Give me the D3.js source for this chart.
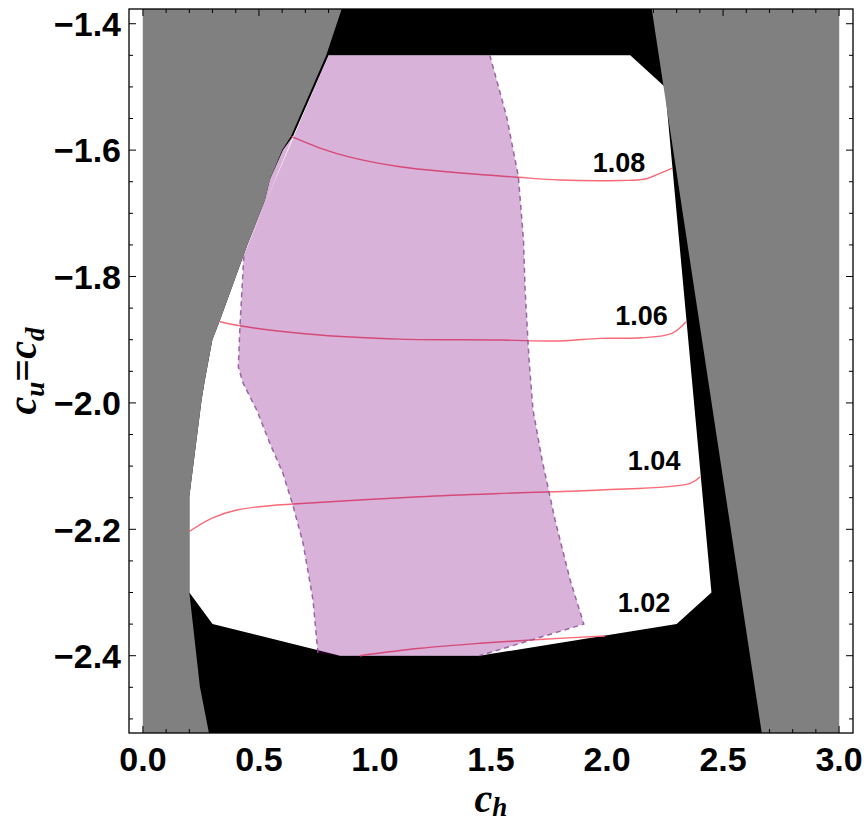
<!DOCTYPE html>
<html>
<head>
<meta charset="utf-8">
<script src="https://cdn.jsdelivr.net/npm/d3@7"></script>
<style>
  html, body { margin: 0; padding: 0; background: #fff; }
  svg { display: block; }
</style>
</head>
<body>
<svg id="chart" width="864" height="825"></svg>
<script>
// ---------------- data ----------------
const xDomain = [-0.06, 3.06];
const yDomain = [-2.5223, -1.3767];
const xTicks = [0, 0.5, 1, 1.5, 2, 2.5, 3];
const xTickLabels = ["0.0", "0.5", "1.0", "1.5", "2.0", "2.5", "3.0"];
const yTicks = [-1.4, -1.6, -1.8, -2.0, -2.2, -2.4];
const yTickLabels = ["\u22121.4", "\u22121.6", "\u22121.8", "\u22122.0", "\u22122.2", "\u22122.4"];
const xMinorStep = 0.1;
const yMinorStep = 0.05;

// excluded band (black) spans the whole c_h range
const blackBand = [[0, -2.5223], [3, -2.5223], [3, -1.3767], [0, -1.3767]];

// gray regions
const grayLeft = [
  [0, -1.3767], [0.8565, -1.3767], [0.79, -1.45], [0.638, -1.578], [0.6, -1.6],
  [0.547, -1.647], [0.526, -1.679], [0.447, -1.753], [0.332, -1.869],
  [0.299, -1.9005], [0.267, -1.964], [0.253, -1.995], [0.2, -2.148],
  [0.2, -2.3], [0.2457, -2.4495], [0.2845, -2.5223], [0, -2.5223]
];
const grayRight = [
  [2.1927, -1.3767], [3, -1.3767], [3, -2.5223], [2.6668, -2.5223]
];

// allowed (white) region
const allowedRegion = [
  [0.8, -1.45], [2.1, -1.45], [2.25, -1.5], [2.45, -2.3], [2.3, -2.35],
  [1.45, -2.4], [0.85, -2.4], [0.3, -2.35], [0.2, -2.3], [0.2, -2.148],
  [0.253, -1.995], [0.267, -1.964], [0.299, -1.9005], [0.332, -1.869],
  [0.447, -1.753], [0.526, -1.679], [0.547, -1.647], [0.604, -1.6], [0.647, -1.578]
];

// pink region: dashed edges
const pinkRight = [
  [1.495, -1.45], [1.5675, -1.547], [1.618, -1.642], [1.64, -1.742],
  [1.647, -1.821], [1.664, -1.932], [1.681, -2.011], [1.72, -2.09],
  [1.776, -2.185], [1.841, -2.28], [1.9, -2.35], [1.45, -2.4]
];
const pinkLeft = [
  [0.754, -2.3958], [0.733, -2.312], [0.69, -2.222], [0.647, -2.163],
  [0.603, -2.111], [0.547, -2.064], [0.49, -2.011], [0.432, -1.969],
  [0.411, -1.943], [0.418, -1.879], [0.435, -1.766]
];
const pinkTopLeft = [[0.8, -1.45]];
const pinkBottom = [[0.85, -2.4]];
const pinkUpperLeft = [[0.447, -1.753], [0.526, -1.679], [0.547, -1.647], [0.604, -1.6], [0.647, -1.578]];

// contours
const contourLevels = ["1.08", "1.06", "1.04", "1.02"];
const contour108 = [
  [0.641, -1.5788], [0.763, -1.5967], [0.892, -1.611], [1.108, -1.6263],
  [1.323, -1.6347], [1.616, -1.643], [1.797, -1.6473], [2.056, -1.648],
  [2.164, -1.6457], [2.228, -1.6367], [2.279, -1.6288]
];
const contour106 = [
  [0.332, -1.8715], [0.418, -1.878], [0.763, -1.8926], [1.108, -1.899],
  [1.539, -1.9005], [1.797, -1.902], [1.97, -1.8978], [2.15, -1.897],
  [2.279, -1.89], [2.341, -1.8715]
];
const contour104 = [
  [0.198, -2.2038], [0.296, -2.1826], [0.404, -2.1695], [0.547, -2.1627],
  [0.648, -2.16], [1.194, -2.1484], [1.6, -2.1425], [1.97, -2.1378],
  [2.358, -2.1272], [2.401, -2.1168]
];
const contour102 = [
  [0.935, -2.4], [1.194, -2.3883], [1.4526, -2.3804], [1.725, -2.374], [1.991, -2.3689]
];
const contourLines = [contour108, contour106, contour104, contour102];
const contourLabelAt = [[2.052, -1.619], [2.149, -1.861], [2.203, -2.09], [2.159, -2.315]];

// ---------------- drawing ----------------
const svg = d3.select("#chart");
const frame = { left: 129, right: 853, top: 9, bottom: 733 };
const x = d3.scaleLinear().domain(xDomain).range([frame.left, frame.right]);
const y = d3.scaleLinear().domain(yDomain).range([frame.bottom, frame.top]);
const line = d3.line().x(d => x(d[0])).y(d => y(d[1]));
const smooth = d3.line().x(d => x(d[0])).y(d => y(d[1])).curve(d3.curveCatmullRom.alpha(0.5));
const poly = pts => line(pts) + "Z";

svg.append("defs").append("clipPath").attr("id", "clip")
  .append("rect").attr("x", frame.left).attr("y", frame.top)
  .attr("width", frame.right - frame.left).attr("height", frame.bottom - frame.top);

const g = svg.append("g").attr("clip-path", "url(#clip)");

g.append("path").attr("d", poly(blackBand)).attr("fill", "#000");
g.append("path").attr("d", poly(allowedRegion)).attr("fill", "#fff");

contourLines.forEach(c => {
  g.append("path").attr("d", smooth(c)).attr("fill", "none")
    .attr("stroke", "rgb(250,105,118)").attr("stroke-width", 1.4);
});

const pinkPoly = pinkTopLeft.concat(pinkRight, pinkBottom, pinkLeft, pinkUpperLeft.slice().reverse());
g.append("path").attr("d", poly(pinkPoly))
  .attr("fill", "rgb(128,0,128)").attr("fill-opacity", 0.3);
[pinkRight, pinkLeft].forEach(e => {
  g.append("path").attr("d", line(e)).attr("fill", "none")
    .attr("stroke", "rgb(140,80,150)").attr("stroke-opacity", 0.85)
    .attr("stroke-width", 1.5).attr("stroke-dasharray", "5,4");
});

g.append("path").attr("d", poly(grayLeft)).attr("fill", "#808080");
g.append("path").attr("d", poly(grayRight)).attr("fill", "#808080");

contourLevels.forEach((lab, i) => {
  g.append("text").attr("x", x(contourLabelAt[i][0])).attr("y", y(contourLabelAt[i][1]))
    .attr("dy", "0.36em").attr("text-anchor", "middle")
    .attr("font-family", "Liberation Sans, Arial, sans-serif")
    .attr("font-weight", "bold").attr("font-size", 27).attr("fill", "#000")
    .text(lab);
});

// frame
svg.append("rect").attr("x", frame.left).attr("y", frame.top)
  .attr("width", frame.right - frame.left).attr("height", frame.bottom - frame.top)
  .attr("fill", "none").attr("stroke", "#000").attr("stroke-width", 1.3);

// ticks
const tk = svg.append("g").attr("stroke", "#000").attr("stroke-width", 1);
const xMinor = d3.range(Math.ceil(xDomain[0] / xMinorStep), Math.floor(xDomain[1] / xMinorStep) + 1).map(i => +(i * xMinorStep).toFixed(3));
const yMinor = d3.range(Math.ceil(yDomain[0] / yMinorStep), Math.floor(yDomain[1] / yMinorStep) + 1).map(i => +(i * yMinorStep).toFixed(3));
const isMajorX = v => xTicks.some(t => Math.abs(t - v) < 1e-6);
const isMajorY = v => yTicks.some(t => Math.abs(t - v) < 1e-6);
xMinor.forEach(v => {
  const L = isMajorX(v) ? 7 : 4;
  tk.append("line").attr("x1", x(v)).attr("x2", x(v)).attr("y1", frame.bottom).attr("y2", frame.bottom - L);
  tk.append("line").attr("x1", x(v)).attr("x2", x(v)).attr("y1", frame.top).attr("y2", frame.top + L);
});
yMinor.forEach(v => {
  const L = isMajorY(v) ? 7 : 4;
  tk.append("line").attr("y1", y(v)).attr("y2", y(v)).attr("x1", frame.left).attr("x2", frame.left + L);
  tk.append("line").attr("y1", y(v)).attr("y2", y(v)).attr("x1", frame.right).attr("x2", frame.right - L);
});

// tick labels
xTicks.forEach((v, i) => {
  svg.append("text").attr("x", x(v)).attr("y", 771)
    .attr("text-anchor", "middle").attr("font-family", "Liberation Sans, Arial, sans-serif")
    .attr("font-weight", "bold").attr("font-size", 34).text(xTickLabels[i]);
});
yTicks.forEach((v, i) => {
  svg.append("text").attr("x", 121).attr("y", y(v)).attr("dy", "0.36em")
    .attr("text-anchor", "end").attr("font-family", "Liberation Sans, Arial, sans-serif")
    .attr("font-weight", "bold").attr("font-size", 34).text(yTickLabels[i]);
});

// axis titles
const xt = svg.append("text").attr("x", (frame.left + frame.right) / 2).attr("y", 812)
  .attr("text-anchor", "middle").attr("font-family", "Liberation Serif, Times New Roman, serif")
  .attr("font-weight", "bold").attr("font-style", "italic").attr("font-size", 40);
xt.append("tspan").text("c");
xt.append("tspan").attr("dy", 4).attr("font-size", 27).text("h");

const yt = svg.append("text").attr("transform", `translate(36,${(frame.top + frame.bottom) / 2}) rotate(-90)`)
  .attr("text-anchor", "middle").attr("font-family", "Liberation Serif, Times New Roman, serif")
  .attr("font-weight", "bold").attr("font-style", "italic").attr("font-size", 40);
yt.append("tspan").text("c");
yt.append("tspan").attr("dy", 8).attr("font-size", 27).text("u");
yt.append("tspan").attr("dy", -8).attr("font-style", "normal").text("=");
yt.append("tspan").text("c");
yt.append("tspan").attr("dy", 8).attr("font-size", 27).text("d");
</script>
</body>
</html>
